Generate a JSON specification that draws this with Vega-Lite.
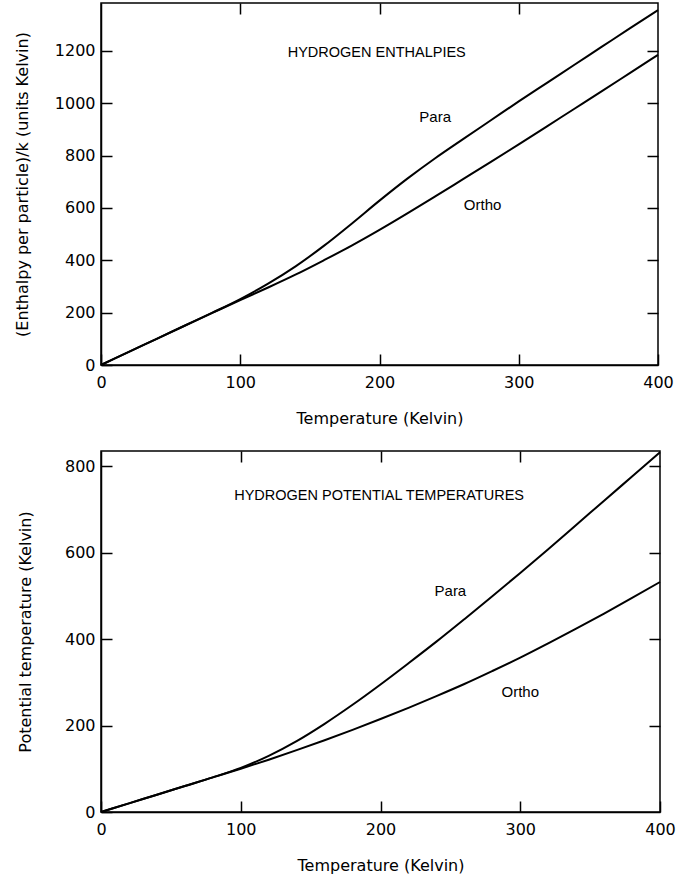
{
  "$schema": "https://vega.github.io/schema/vega-lite/v6.json",
  "background": "white",
  "padding": {"left": 13, "top": 1, "right": 10, "bottom": 3},
  "columns": 1,
  "spacing": 20,
  "datasets": {
    "enthalpy": [
      {"T": 0, "species": "Para", "value": 0}, {"T": 20, "species": "Para", "value": 50}, {"T": 40, "species": "Para", "value": 100}, {"T": 60, "species": "Para", "value": 150}, {"T": 80, "species": "Para", "value": 200}, {"T": 100, "species": "Para", "value": 252}, {"T": 120, "species": "Para", "value": 311}, {"T": 140, "species": "Para", "value": 378}, {"T": 160, "species": "Para", "value": 455}, {"T": 180, "species": "Para", "value": 540}, {"T": 200, "species": "Para", "value": 628}, {"T": 220, "species": "Para", "value": 712}, {"T": 240, "species": "Para", "value": 790}, {"T": 260, "species": "Para", "value": 863}, {"T": 280, "species": "Para", "value": 935}, {"T": 300, "species": "Para", "value": 1007}, {"T": 320, "species": "Para", "value": 1077}, {"T": 340, "species": "Para", "value": 1147}, {"T": 360, "species": "Para", "value": 1217}, {"T": 380, "species": "Para", "value": 1287}, {"T": 400, "species": "Para", "value": 1356},
      {"T": 0, "species": "Ortho", "value": 0}, {"T": 20, "species": "Ortho", "value": 50}, {"T": 40, "species": "Ortho", "value": 100}, {"T": 60, "species": "Ortho", "value": 150}, {"T": 80, "species": "Ortho", "value": 199}, {"T": 100, "species": "Ortho", "value": 248}, {"T": 120, "species": "Ortho", "value": 296}, {"T": 140, "species": "Ortho", "value": 346}, {"T": 160, "species": "Ortho", "value": 400}, {"T": 180, "species": "Ortho", "value": 456}, {"T": 200, "species": "Ortho", "value": 516}, {"T": 220, "species": "Ortho", "value": 579}, {"T": 240, "species": "Ortho", "value": 644}, {"T": 260, "species": "Ortho", "value": 710}, {"T": 280, "species": "Ortho", "value": 776}, {"T": 300, "species": "Ortho", "value": 843}, {"T": 320, "species": "Ortho", "value": 911}, {"T": 340, "species": "Ortho", "value": 979}, {"T": 360, "species": "Ortho", "value": 1047}, {"T": 380, "species": "Ortho", "value": 1116}, {"T": 400, "species": "Ortho", "value": 1185}
    ],
    "potential": [
      {"T": 0, "species": "Para", "value": 0}, {"T": 20, "species": "Para", "value": 20}, {"T": 40, "species": "Para", "value": 40}, {"T": 60, "species": "Para", "value": 60}, {"T": 80, "species": "Para", "value": 80}, {"T": 100, "species": "Para", "value": 102}, {"T": 120, "species": "Para", "value": 130}, {"T": 140, "species": "Para", "value": 164}, {"T": 160, "species": "Para", "value": 204}, {"T": 180, "species": "Para", "value": 248}, {"T": 200, "species": "Para", "value": 295}, {"T": 220, "species": "Para", "value": 344}, {"T": 240, "species": "Para", "value": 394}, {"T": 260, "species": "Para", "value": 446}, {"T": 280, "species": "Para", "value": 499}, {"T": 300, "species": "Para", "value": 553}, {"T": 320, "species": "Para", "value": 608}, {"T": 340, "species": "Para", "value": 664}, {"T": 360, "species": "Para", "value": 720}, {"T": 380, "species": "Para", "value": 776}, {"T": 400, "species": "Para", "value": 832},
      {"T": 0, "species": "Ortho", "value": 0}, {"T": 20, "species": "Ortho", "value": 20}, {"T": 40, "species": "Ortho", "value": 40}, {"T": 60, "species": "Ortho", "value": 60}, {"T": 80, "species": "Ortho", "value": 80}, {"T": 100, "species": "Ortho", "value": 100}, {"T": 120, "species": "Ortho", "value": 121}, {"T": 140, "species": "Ortho", "value": 143}, {"T": 160, "species": "Ortho", "value": 166}, {"T": 180, "species": "Ortho", "value": 190}, {"T": 200, "species": "Ortho", "value": 215}, {"T": 220, "species": "Ortho", "value": 241}, {"T": 240, "species": "Ortho", "value": 268}, {"T": 260, "species": "Ortho", "value": 296}, {"T": 280, "species": "Ortho", "value": 326}, {"T": 300, "species": "Ortho", "value": 357}, {"T": 320, "species": "Ortho", "value": 390}, {"T": 340, "species": "Ortho", "value": 424}, {"T": 360, "species": "Ortho", "value": 459}, {"T": 380, "species": "Ortho", "value": 495}, {"T": 400, "species": "Ortho", "value": 532}
    ],
    "enthalpyLabels": [
      {"T": 198, "value": 1192, "text": "HYDROGEN ENTHALPIES", "size": "title"},
      {"T": 240, "value": 948, "text": "Para", "size": "curve"},
      {"T": 274, "value": 611, "text": "Ortho", "size": "curve"}
    ],
    "potentialLabels": [
      {"T": 199, "value": 731, "text": "HYDROGEN POTENTIAL TEMPERATURES", "size": "title"},
      {"T": 250, "value": 511, "text": "Para", "size": "curve"},
      {"T": 300, "value": 277, "text": "Ortho", "size": "curve"}
    ]
  },
  "concat": [
    {
      "width": 557,
      "height": 362,
      "resolve": {"axis": {"x": "independent", "y": "independent"}},
      "layer": [
        {
          "data": {"name": "enthalpy"},
          "mark": {"type": "line", "color": "black", "strokeWidth": 2, "interpolate": "monotone"},
          "encoding": {
            "x": {"field": "T", "type": "quantitative", "scale": {"domain": [0, 400], "nice": false, "zero": false},
                  "axis": {"orient": "bottom", "values": [0, 100, 200, 300, 400], "format": "d", "title": "Temperature (Kelvin)"}},
            "y": {"field": "value", "type": "quantitative", "scale": {"domain": [0, 1383], "nice": false},
                  "axis": {"orient": "left", "values": [0, 200, 400, 600, 800, 1000, 1200], "format": "d", "title": "(Enthalpy per particle)/k (units Kelvin)", "titlePadding": 24}},
            "detail": {"field": "species"}
          }
        },
        {
          "data": {"name": "enthalpy"},
          "mark": {"type": "line", "opacity": 0},
          "encoding": {
            "x": {"field": "T", "type": "quantitative", "axis": {"orient": "top", "values": [100, 200, 300], "labels": false, "domain": false, "title": null}},
            "y": {"field": "value", "type": "quantitative", "axis": {"orient": "right", "values": [200, 400, 600, 800, 1000, 1200], "labels": false, "domain": false, "title": null}},
            "detail": {"field": "species"}
          }
        },
        {
          "data": {"name": "enthalpyLabels"},
          "mark": {"type": "text", "font": "Liberation Sans", "color": "black", "baseline": "middle", "align": "center"},
          "encoding": {
            "x": {"field": "T", "type": "quantitative", "axis": null},
            "y": {"field": "value", "type": "quantitative", "axis": null},
            "text": {"field": "text"},
            "size": {"field": "size", "type": "nominal", "scale": {"domain": ["title", "curve"], "range": [14.5, 15]}, "legend": null}
          }
        }
      ]
    },
    {
      "width": 559,
      "height": 361,
      "resolve": {"axis": {"x": "independent", "y": "independent"}},
      "layer": [
        {
          "data": {"name": "potential"},
          "mark": {"type": "line", "color": "black", "strokeWidth": 2, "interpolate": "monotone"},
          "encoding": {
            "x": {"field": "T", "type": "quantitative", "scale": {"domain": [0, 400], "nice": false, "zero": false},
                  "axis": {"orient": "bottom", "values": [0, 100, 200, 300, 400], "format": "d", "title": "Temperature (Kelvin)"}},
            "y": {"field": "value", "type": "quantitative", "scale": {"domain": [0, 835], "nice": false},
                  "axis": {"orient": "left", "values": [0, 200, 400, 600, 800], "format": "d", "title": "Potential temperature (Kelvin)", "titlePadding": 31}},
            "detail": {"field": "species"}
          }
        },
        {
          "data": {"name": "potential"},
          "mark": {"type": "line", "opacity": 0},
          "encoding": {
            "x": {"field": "T", "type": "quantitative", "axis": {"orient": "top", "values": [100, 200, 300], "labels": false, "domain": false, "title": null}},
            "y": {"field": "value", "type": "quantitative", "axis": {"orient": "right", "values": [200, 400, 600, 800], "labels": false, "domain": false, "title": null}},
            "detail": {"field": "species"}
          }
        },
        {
          "data": {"name": "potentialLabels"},
          "mark": {"type": "text", "font": "Liberation Sans", "color": "black", "baseline": "middle", "align": "center"},
          "encoding": {
            "x": {"field": "T", "type": "quantitative", "axis": null},
            "y": {"field": "value", "type": "quantitative", "axis": null},
            "text": {"field": "text"},
            "size": {"field": "size", "type": "nominal", "scale": {"domain": ["title", "curve"], "range": [14.5, 15]}, "legend": null}
          }
        }
      ]
    }
  ],
  "config": {
    "view": {"stroke": "black", "strokeWidth": 1.5},
    "axis": {
      "domainColor": "black", "domainWidth": 1.5,
      "tickColor": "black", "tickWidth": 1.5, "tickSize": -11,
      "labelColor": "black", "labelFont": "DejaVu Sans", "labelFontSize": 16,
      "titleColor": "black", "titleFont": "DejaVu Sans", "titleFontSize": 16, "titleFontWeight": "normal",
      "grid": false, "labelFlush": false, "labelOverlap": false, "labelBound": false
    },
    "axisX": {"labelPadding": 20, "titlePadding": 20},
    "axisY": {"labelPadding": 17}
  }
}
